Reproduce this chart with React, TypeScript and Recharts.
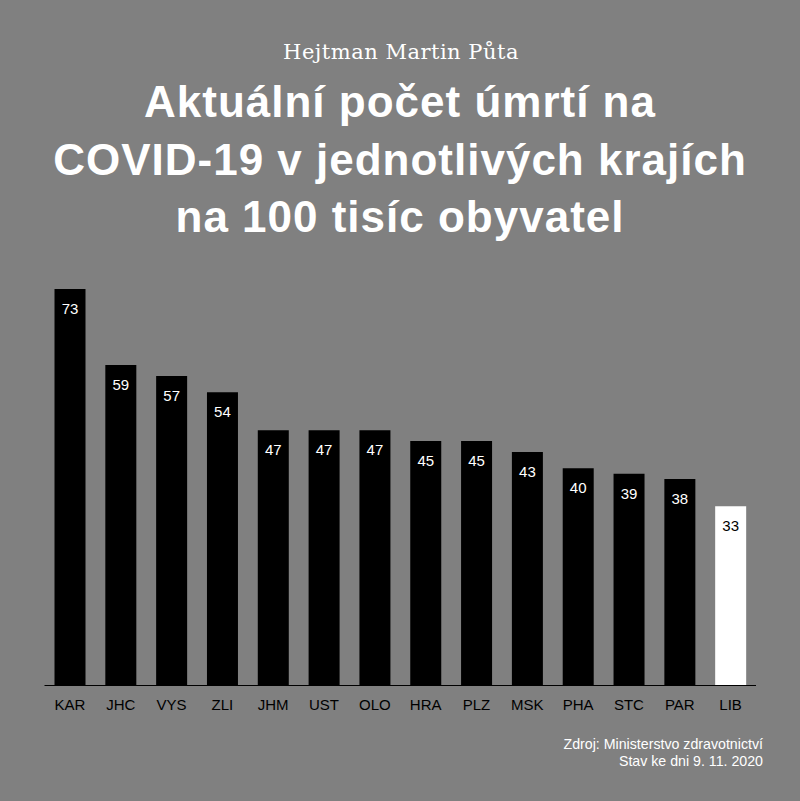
import React from 'react';
import { BarChart, Bar, XAxis, YAxis, Cell, LabelList } from 'recharts';

// kraje, seřazené podle počtu úmrtí
const regions = ['KAR', 'JHC', 'VYS', 'ZLI', 'JHM', 'UST', 'OLO', 'HRA', 'PLZ', 'MSK', 'PHA', 'STC', 'PAR', 'LIB'];
const deathsPer100k = [73, 59, 57, 54, 47, 47, 47, 45, 45, 43, 40, 39, 38, 33];
const highlighted = 'LIB';

const subtitle = 'Hejtman Martin Půta';
const titleLines = ['Aktuální počet úmrtí na', 'COVID-19 v jednotlivých krajích', 'na 100 tisíc obyvatel'];
const sourceLines = ['Zdroj: Ministerstvo zdravotnictví', 'Stav ke dni 9. 11. 2020'];

const data = regions.map((region, i) => ({ region, value: deathsPer100k[i] }));

const SANS = '"Liberation Sans", Arial, Helvetica, sans-serif';

const ValueLabel = (props: any) => {
  const { x, y, width, value, index } = props;
  const isHighlighted = regions[index] === highlighted;
  return (
    <text
      x={Number(x) + Number(width) / 2}
      y={Number(y) + 25}
      textAnchor="middle"
      fontFamily={SANS}
      fontSize={15}
      fill={isHighlighted ? '#000' : '#fff'}
    >
      {value}
    </text>
  );
};

const App = () => {
  return (
    <div style={{ position: 'absolute', left: 0, top: 0, width: 800, height: 801, backgroundColor: '#808080', overflow: 'hidden' }}>
      <BarChart
        width={800}
        height={801}
        data={data}
        margin={{ top: 251, right: 44, bottom: 85.5, left: 44.5 }}
      >
        <XAxis
          dataKey="region"
          height={30}
          tickLine={false}
          axisLine={{ stroke: '#000', strokeWidth: 1 }}
          tick={{ fill: '#000', fontSize: 15, fontFamily: SANS }}
          tickMargin={8}
          interval={0}
        />
        <YAxis hide domain={[0, 80]} />
        <Bar dataKey="value" barSize={31} isAnimationActive={false}>
          {data.map((d) => (
            <Cell key={d.region} fill={d.region === highlighted ? '#fff' : '#000'} />
          ))}
          <LabelList dataKey="value" content={<ValueLabel />} />
        </Bar>
      </BarChart>

      <svg width={800} height={801} style={{ position: 'absolute', left: 0, top: 0, pointerEvents: 'none' }}>
        <text x={401} y={59} textAnchor="middle" fontFamily='"DejaVu Serif", "Liberation Serif", serif' fontSize={21} letterSpacing={0.5} fill="#fff">
          {subtitle}
        </text>
        {titleLines.map((line, i) => (
          <text
            key={line}
            x={400}
            y={117 + i * 57.5}
            textAnchor="middle"
            fontFamily={SANS}
            fontWeight="bold"
            fontSize={44}
            letterSpacing={1}
            fill="#fff"
          >
            {line}
          </text>
        ))}
        {sourceLines.map((line, i) => (
          <text
            key={line}
            x={763}
            y={748.5 + i * 17}
            textAnchor="end"
            fontFamily={SANS}
            fontSize={14.2}
            fill="#fff"
          >
            {line}
          </text>
        ))}
      </svg>
    </div>
  );
};

export default App;
